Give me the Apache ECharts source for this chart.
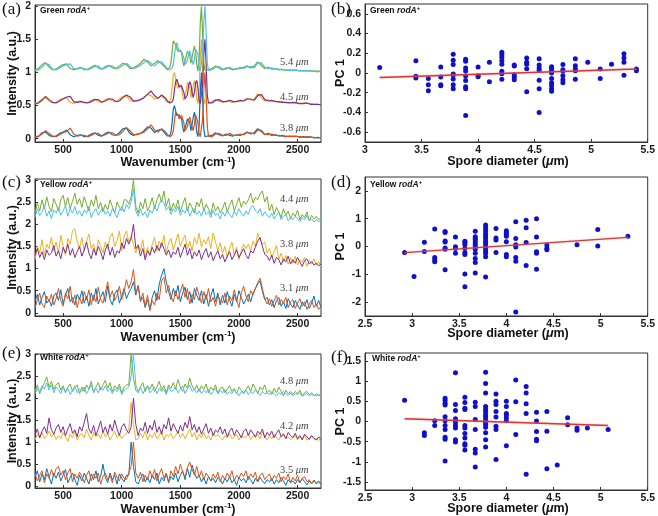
<!DOCTYPE html>
<html><head><meta charset="utf-8">
<script src="https://cdn.jsdelivr.net/npm/echarts@6/dist/echarts.min.js"></script>
<style>html,body{margin:0;padding:0;background:#fff}#c{width:658px;height:516px}</style>
</head><body><div id="c"></div>
<script>
// ---------- spectra panel (a): wavenumbers and relative intensities ----------
const wnA = [260,290,320,350,380,410,440,470,500,530,560,590,620,650,680,710,740,770,800,830,860,890,920,950,980,1010,1040,1070,1100,1130,1160,1190,1220,1250,1280,1310,1340,1370,
1380,1390,1400,1410,1420,1430,1440,1450,1460,1470,1480,1490,1500,1510,1520,1530,1540,1550,1560,1570,1580,1590,1600,1610,1620,1630,1640,1650,1660,1670,1680,1690,1700,1710,1720,1730,1740,
1770,1800,1830,1860,1890,1920,1950,1980,2010,2040,2070,2100,2130,2160,2190,2220,2250,2280,2310,2340,2370,2400,2430,2460,2490,2520,2550,2580,2610,2640,2670,2700];
const offsetsA = [0, 0.5, 1];
const blueA = [0.02,0.03,0.09,0.10,0.05,0.03,0.04,0.08,0.10,0.13,0.06,0.03,0.05,0.06,0.03,0.04,0.07,0.09,0.05,0.04,0.08,0.10,0.06,0.05,0.09,0.15,0.16,0.08,0.05,0.07,0.08,0.12,0.18,0.16,0.09,0.13,0.14,0.08,
0.06,0.04,0.03,0.05,0.10,0.25,0.45,0.50,0.42,0.35,0.33,0.36,0.38,0.30,0.18,0.10,0.12,0.22,0.30,0.33,0.25,0.12,0.15,0.32,0.40,0.30,0.10,0.03,0.20,0.70,1.00,0.60,0.15,0.03,0.02,0.04,0.05,
0.05,0.09,0.06,0.04,0.07,0.05,0.04,0.06,0.05,0.07,0.10,0.07,0.09,0.15,0.11,0.06,0.08,0.05,0.06,0.04,0.05,0.03,0.04,0.03,0.04,0.02,0.03,0.02,0.03,0.01,0.02,0.01];
const orangeA = [0.03,0.04,0.07,0.12,0.08,0.04,0.03,0.06,0.09,0.11,0.16,0.07,0.04,0.05,0.05,0.03,0.05,0.08,0.08,0.04,0.06,0.09,0.09,0.05,0.06,0.11,0.17,0.12,0.06,0.06,0.08,0.10,0.15,0.21,0.13,0.10,0.15,0.11,
0.08,0.06,0.04,0.03,0.04,0.06,0.12,0.28,0.40,0.42,0.36,0.30,0.32,0.35,0.33,0.24,0.12,0.10,0.18,0.28,0.33,0.30,0.18,0.12,0.22,0.36,0.38,0.25,0.08,0.03,0.05,0.30,0.75,1.00,0.65,0.18,0.04,
0.03,0.07,0.08,0.05,0.05,0.08,0.05,0.05,0.07,0.06,0.09,0.09,0.07,0.13,0.13,0.07,0.06,0.07,0.05,0.05,0.04,0.04,0.03,0.04,0.03,0.03,0.02,0.03,0.02,0.02,0.01,0.02];
const yellowA = [0.03,0.05,0.10,0.12,0.07,0.04,0.05,0.09,0.11,0.12,0.05,0.03,0.06,0.07,0.04,0.05,0.08,0.10,0.06,0.05,0.09,0.11,0.07,0.06,0.10,0.14,0.15,0.08,0.06,0.08,0.09,0.13,0.17,0.15,0.10,0.12,0.15,0.09,
0.06,0.05,0.04,0.06,0.12,0.28,0.46,0.50,0.40,0.30,0.26,0.28,0.32,0.27,0.15,0.08,0.10,0.22,0.35,0.38,0.28,0.12,0.14,0.30,0.38,0.30,0.10,0.03,0.22,0.72,1.00,0.55,0.12,0.03,0.02,0.03,0.05,
0.06,0.09,0.07,0.05,0.07,0.06,0.05,0.07,0.06,0.08,0.11,0.08,0.10,0.18,0.12,0.07,0.09,0.06,0.07,0.05,0.06,0.04,0.05,0.04,0.04,0.03,0.04,0.03,0.03,0.02,0.02,0.01];
const purpleA = [0.02,0.04,0.08,0.14,0.09,0.05,0.04,0.07,0.10,0.13,0.14,0.06,0.05,0.06,0.05,0.04,0.06,0.09,0.09,0.05,0.07,0.10,0.10,0.06,0.07,0.12,0.16,0.13,0.07,0.07,0.09,0.12,0.17,0.22,0.15,0.11,0.16,0.12,
0.09,0.07,0.05,0.04,0.04,0.06,0.10,0.24,0.36,0.40,0.34,0.28,0.26,0.30,0.28,0.20,0.10,0.08,0.16,0.30,0.36,0.32,0.20,0.12,0.20,0.34,0.38,0.26,0.08,0.03,0.06,0.32,0.78,1.00,0.62,0.15,0.04,
0.04,0.08,0.09,0.06,0.06,0.08,0.06,0.06,0.08,0.07,0.10,0.10,0.08,0.15,0.17,0.09,0.07,0.08,0.06,0.06,0.05,0.05,0.04,0.05,0.04,0.03,0.03,0.04,0.02,0.02,0.02,0.01];
const greenA = [0.04,0.06,0.12,0.15,0.08,0.04,0.05,0.09,0.12,0.13,0.06,0.04,0.06,0.08,0.04,0.05,0.08,0.11,0.07,0.05,0.09,0.11,0.07,0.06,0.10,0.14,0.12,0.06,0.07,0.10,0.14,0.20,0.16,0.10,0.14,0.18,0.13,0.08,
0.05,0.04,0.05,0.08,0.15,0.32,0.48,0.50,0.42,0.36,0.32,0.30,0.34,0.30,0.18,0.10,0.12,0.24,0.32,0.34,0.26,0.14,0.16,0.32,0.40,0.32,0.12,0.02,0.20,0.75,1.00,0.58,0.14,0.03,0.02,0.04,0.05,
0.06,0.10,0.07,0.04,0.07,0.06,0.04,0.06,0.06,0.08,0.10,0.07,0.10,0.16,0.11,0.06,0.08,0.05,0.06,0.04,0.05,0.03,0.04,0.03,0.04,0.02,0.03,0.02,0.03,0.02,0.02,0.02];
const cyanA = [0.03,0.04,0.08,0.14,0.12,0.05,0.04,0.07,0.10,0.12,0.13,0.06,0.05,0.07,0.06,0.04,0.06,0.09,0.10,0.05,0.07,0.10,0.10,0.06,0.07,0.11,0.14,0.09,0.06,0.08,0.11,0.15,0.18,0.14,0.10,0.15,0.16,0.10,
0.07,0.06,0.05,0.04,0.05,0.07,0.12,0.28,0.40,0.45,0.38,0.32,0.30,0.32,0.30,0.22,0.12,0.10,0.18,0.28,0.33,0.30,0.18,0.12,0.20,0.35,0.38,0.28,0.08,0.02,0.05,0.30,0.76,1.00,0.60,0.14,0.03,
0.04,0.08,0.09,0.05,0.05,0.08,0.05,0.05,0.08,0.06,0.09,0.09,0.07,0.14,0.15,0.08,0.06,0.07,0.05,0.05,0.04,0.04,0.03,0.04,0.03,0.03,0.02,0.03,0.02,0.02,0.01,0.02];

// ---------- spectra panels (c) and (e): shared wavenumber sampling ----------
const wnN = [260,280,300,320,340,360,380,400,420,440,460,480,500,520,540,560,580,600,620,640,
660,680,700,720,740,760,780,800,820,840,860,880,900,920,940,960,980,1000,1020,1040,
1060,1080,1100,1120,1140,1160,1180,1200,1220,1240,1260,1280,1300,1320,1340,1360,1380,1400,1420,1440,
1460,1480,1500,1520,1540,1560,1580,1600,1620,1640,1660,1680,1700,1720,1740,1760,1780,1800,1820,1840,
1860,1880,1900,1920,1940,1960,1980,2000,2020,2040,2060,2080,2100,2120,2140,2160,2180,2200,2220,2240,
2260,2280,2300,2320,2340,2360,2380,2400,2420,2440,2460,2480,2500,2520,2540,2560,2580,2600,2620,2640,
2660,2680,2700];
const offsetsC = [0, 1, 2];
const blueC = [0.25,0.42,0.18,0.35,0.48,0.22,0.30,0.15,0.38,0.45, 0.28,0.52,0.20,0.40,0.55,0.25,0.35,0.18,0.42,0.30,
0.50,0.22,0.38,0.15,0.45,0.28,0.55,0.20,0.35,0.48, 0.25,0.60,0.30,0.18,0.42,0.52,0.22,0.38,0.55,0.32,
0.45,0.55,0.70,0.40,0.62,0.28,0.35,0.12,0.30,0.08, 0.35,0.50,0.28,0.65,0.85,1.00,0.70,0.48,0.30,0.55,
0.38,0.62,0.25,0.45,0.58,0.30,0.48,0.22,0.55,0.40, 0.28,0.50,0.20,0.42,0.15,0.38,0.55,0.25,0.45,0.18,
0.40,0.22,0.48,0.30,0.15,0.42,0.25,0.50,0.35,0.20, 0.30,0.42,0.25,0.45,0.55,0.65,0.72,0.48,0.30,0.35,
0.18,0.30,0.12,0.28,0.35,0.15,0.25,0.10,0.32,0.20, 0.12,0.28,0.18,0.08,0.25,0.15,0.30,0.10,0.22,0.38, 0.15,0.28,0.12];
const orangeC = [0.10,0.30,0.45,0.20,0.12,0.38,0.25,0.42,0.18,0.32, 0.55,0.28,0.15,0.45,0.32,0.60,0.22,0.40,0.12,0.35,
0.20,0.48,0.30,0.52,0.18,0.40,0.25,0.58,0.30,0.22, 0.45,0.70,0.35,0.50,0.28,0.40,0.60,0.30,0.48,0.75,
0.55,0.70,0.98,0.45,0.60,0.25,0.45,0.15,0.40,0.05, 0.28,0.18,0.45,0.30,0.72,0.80,0.45,0.62,0.38,0.25,
0.50,0.30,0.48,0.65,0.35,0.55,0.20,0.42,0.30,0.58, 0.40,0.22,0.48,0.30,0.55,0.25,0.35,0.15,0.40,0.28,
0.22,0.45,0.18,0.38,0.28,0.52,0.30,0.12,0.45,0.60, 0.38,0.25,0.50,0.40,0.55,0.68,0.78,0.55,0.32,0.20,
0.32,0.15,0.28,0.40,0.18,0.30,0.22,0.35,0.12,0.25, 0.30,0.10,0.22,0.32,0.15,0.25,0.08,0.20,0.28,0.12, 0.20,0.08,0.15];
const yellowC = [0.20,0.50,0.35,0.65,0.30,0.55,0.45,0.70,0.40,0.60, 0.35,0.75,0.50,0.30,0.68,0.55,0.85,0.90,0.60,0.45,
0.70,0.40,0.62,0.78,0.45,0.55,0.30,0.65,0.50,0.35, 0.60,0.45,0.70,0.80,0.50,0.62,0.85,0.40,0.72,0.85,
0.60,0.72,0.55,0.35,0.55,0.40,0.65,0.25,0.48,0.30, 0.55,0.70,0.40,0.62,0.48,0.75,0.35,0.58,0.68,0.42,
0.60,0.78,0.50,0.65,0.75,0.45,0.62,0.40,0.70,0.55, 0.80,0.48,0.65,0.55,0.72,0.45,0.80,0.60,0.40,0.58,
0.35,0.50,0.25,0.45,0.60,0.30,0.48,0.20,0.40,0.55, 0.45,0.55,0.40,0.62,0.50,0.80,0.65,0.55,0.60,0.35,
0.45,0.25,0.38,0.52,0.20,0.35,0.15,0.30,0.10,0.25, 0.12,0.28,0.08,0.20,0.15,0.25,0.05,0.18,0.10,0.22, 0.08,0.15,0.05];
const purpleC = [0.30,0.45,0.25,0.38,0.20,0.42,0.30,0.35,0.52,0.28, 0.40,0.22,0.48,0.35,0.55,0.30,0.45,0.25,0.38,0.50,
0.28,0.42,0.60,0.35,0.22,0.45,0.30,0.50,0.38,0.20, 0.42,0.55,0.30,0.48,0.25,0.40,0.35,0.58,0.45,0.68,
0.55,0.68,1.00,0.45,0.52,0.28,0.45,0.20,0.40,0.30, 0.48,0.35,0.52,0.40,0.58,0.45,0.30,0.42,0.25,0.38,
0.32,0.48,0.25,0.40,0.55,0.30,0.45,0.22,0.38,0.28, 0.42,0.20,0.35,0.45,0.25,0.38,0.18,0.30,0.40,0.22,
0.32,0.15,0.28,0.38,0.20,0.30,0.42,0.25,0.35,0.45, 0.30,0.22,0.40,0.35,0.48,0.62,0.70,0.50,0.32,0.28,
0.18,0.30,0.12,0.25,0.20,0.08,0.22,0.15,0.28,0.10, 0.20,0.12,0.25,0.15,0.05,0.18,0.22,0.10,0.16,0.08, 0.12,0.06,0.10];
const greenC = [0.25,0.48,0.30,0.55,0.35,0.62,0.40,0.28,0.58,0.45, 0.30,0.55,0.65,0.40,0.60,0.35,0.52,0.70,0.45,0.58,
0.38,0.62,0.45,0.30,0.55,0.40,0.65,0.35,0.50,0.28, 0.45,0.32,0.55,0.40,0.25,0.50,0.38,0.30,0.55,0.55,
0.45,0.62,1.00,0.40,0.25,0.50,0.35,0.58,0.30,0.42, 0.60,0.35,0.55,0.68,0.50,0.75,0.40,0.58,0.30,0.48,
0.35,0.55,0.28,0.45,0.60,0.30,0.48,0.38,0.25,0.50, 0.40,0.58,0.30,0.45,0.35,0.22,0.48,0.30,0.40,0.25,
0.35,0.50,0.28,0.42,0.55,0.30,0.45,0.60,0.38,0.52, 0.45,0.55,0.70,0.48,0.60,0.55,0.68,0.75,0.50,0.62,
0.30,0.45,0.22,0.38,0.28,0.15,0.35,0.20,0.30,0.12, 0.25,0.18,0.32,0.10,0.22,0.15,0.28,0.08,0.20,0.12, 0.18,0.10,0.15];
const cyanC = [0.15,0.35,0.20,0.28,0.40,0.18,0.30,0.12,0.32,0.25, 0.38,0.20,0.30,0.42,0.18,0.35,0.25,0.40,0.22,0.30,
0.18,0.32,0.25,0.40,0.15,0.28,0.35,0.20,0.30,0.38, 0.22,0.30,0.18,0.35,0.25,0.15,0.32,0.40,0.28,0.45,
0.35,0.50,0.80,0.30,0.18,0.35,0.20,0.28,0.15,0.32, 0.25,0.40,0.30,0.45,0.55,0.48,0.32,0.40,0.22,0.35,
0.28,0.40,0.20,0.32,0.25,0.38,0.18,0.30,0.35,0.22, 0.30,0.18,0.35,0.22,0.28,0.15,0.32,0.20,0.25,0.12,
0.28,0.18,0.32,0.22,0.15,0.30,0.20,0.35,0.25,0.18, 0.30,0.22,0.38,0.42,0.30,0.25,0.35,0.18,0.28,0.20,
0.15,0.25,0.12,0.20,0.28,0.10,0.18,0.22,0.08,0.15, 0.10,0.18,0.12,0.06,0.15,0.10,0.20,0.08,0.12,0.05, 0.10,0.06,0.08];

const offsetsE = [0, 1, 2];
const blueE = [0.20,0.35,0.10,0.28,0.15,0.40,0.22,0.05,0.30,0.18, 0.32,0.12,0.25,0.38,0.08,0.20,0.30,0.15,0.02,0.25,
0.12,0.30,0.18,0.05,0.28,0.15,0.35,0.10,0.22,0.50, 0.20,0.08,0.30,0.15,0.25,0.05,0.28,0.18,0.10,0.25,
0.25,1.00,0.45,0.10,0.05,0.18,0.28,0.10,0.20,0.08, 0.25,0.15,0.30,0.05,0.20,0.12,0.28,0.08,0.22,0.15,
0.30,0.10,0.25,0.35,0.15,0.40,0.20,0.48,0.30,0.18, 0.25,0.10,0.20,0.05,0.22,0.12,0.18,0.08,0.20,0.15,
0.05,0.18,0.10,0.22,0.08,0.15,0.02,0.20,0.12,0.18, 0.08,0.22,0.15,0.05,0.18,0.10,0.20,0.12,0.06,0.15,
0.10,0.18,0.05,0.15,0.08,0.20,0.12,0.02,0.15,0.08, 0.12,0.05,0.15,0.08,0.18,0.10,0.03,0.12,0.06,0.14, 0.05,0.10,0.04];
const orangeE = [0.30,0.12,0.25,0.35,0.08,0.28,0.18,0.38,0.22,0.40, 0.45,0.25,0.35,0.15,0.30,0.40,0.10,0.28,0.18,0.32,
0.22,0.08,0.25,0.35,0.12,0.28,0.18,0.30,0.05,0.22, 0.30,0.15,0.25,0.08,0.32,0.20,0.12,0.28,0.18,0.15,
0.30,0.45,1.00,0.30,0.18,0.32,0.10,0.25,0.15,0.35, 0.20,0.38,0.12,0.28,0.40,0.18,0.30,0.10,0.35,0.22,
0.45,0.28,0.50,0.32,0.20,0.42,0.55,0.38,0.25,0.45, 0.20,0.35,0.15,0.30,0.22,0.12,0.28,0.18,0.32,0.10,
0.25,0.15,0.30,0.20,0.35,0.12,0.25,0.18,0.30,0.22, 0.35,0.15,0.28,0.20,0.32,0.10,0.25,0.30,0.15,0.22,
0.28,0.12,0.25,0.18,0.30,0.10,0.22,0.15,0.28,0.08, 0.20,0.12,0.25,0.08,0.18,0.22,0.10,0.15,0.05,0.12, 0.08,0.12,0.06];
const yellowE = [0.05,0.18,0.10,0.22,0.08,0.15,0.25,0.12,0.20,0.06, 0.15,0.08,0.22,0.12,0.02,0.18,0.10,0.25,0.05,0.15,
0.20,0.10,0.30,0.15,0.05,0.22,0.12,0.18,0.08,0.25, 0.12,0.20,0.05,0.15,0.25,0.10,0.18,0.08,0.15,0.20,
0.30,0.90,0.40,0.05,0.08,0.20,0.10,0.25,0.05,0.18, 0.10,0.22,0.08,0.15,0.25,0.05,0.18,0.12,0.20,0.08,
0.15,0.25,0.10,0.20,0.08,0.18,0.30,0.12,0.22,0.05, 0.18,0.10,0.22,0.08,0.15,0.05,0.20,0.12,0.18,0.10,
0.05,0.15,0.10,0.20,0.08,0.12,0.18,0.05,0.15,0.10, 0.12,0.20,0.06,0.15,0.10,0.18,0.08,0.22,0.12,0.05,
0.15,0.08,0.18,0.10,0.05,0.14,0.20,0.08,0.12,0.06, 0.10,0.15,0.05,0.12,0.08,0.16,0.04,0.10,0.14,0.06, 0.08,0.04,0.10];
const purpleE = [0.15,0.30,0.10,0.25,0.35,0.20,0.55,0.28,0.18,0.32, 0.40,0.22,0.35,0.15,0.30,0.42,0.20,0.28,0.12,0.35,
0.25,0.45,0.65,0.30,0.20,0.38,0.15,0.30,0.48,0.22, 0.35,0.18,0.40,0.25,0.50,0.30,0.15,0.35,0.42,0.28,
0.20,0.35,1.00,0.40,0.15,0.32,0.25,0.45,0.20,0.38, 0.28,0.50,0.22,0.35,0.18,0.40,0.30,0.55,0.25,0.42,
0.30,0.20,0.38,0.25,0.45,0.32,0.58,0.28,0.40,0.22, 0.35,0.18,0.30,0.42,0.20,0.32,0.15,0.28,0.22,0.35,
0.18,0.30,0.12,0.25,0.32,0.15,0.28,0.20,0.10,0.25, 0.30,0.15,0.28,0.20,0.12,0.25,0.18,0.30,0.10,0.22,
0.15,0.25,0.10,0.20,0.28,0.12,0.18,0.08,0.22,0.15, 0.10,0.20,0.08,0.15,0.05,0.18,0.12,0.06,0.15,0.10, 0.05,0.12,0.06];
const greenE = [0.15,0.30,0.10,0.22,0.35,0.48,0.25,0.38,0.20,0.30, 0.35,0.18,0.28,0.12,0.25,0.32,0.15,0.22,0.30,0.10,
0.25,0.15,0.30,0.20,0.38,0.12,0.25,0.35,0.18,0.30, 0.40,0.22,0.35,0.15,0.28,0.20,0.32,0.12,0.25,0.30,
0.30,1.00,0.45,0.18,0.12,0.25,0.35,0.15,0.28,0.20, 0.32,0.15,0.25,0.38,0.18,0.28,0.12,0.30,0.22,0.35,
0.20,0.42,0.25,0.15,0.32,0.22,0.45,0.28,0.18,0.30, 0.15,0.28,0.20,0.32,0.12,0.25,0.18,0.30,0.10,0.22,
0.25,0.12,0.20,0.28,0.15,0.22,0.10,0.25,0.18,0.12, 0.20,0.28,0.15,0.32,0.22,0.10,0.25,0.18,0.30,0.12,
0.18,0.08,0.22,0.12,0.25,0.15,0.05,0.18,0.10,0.15, 0.08,0.15,0.10,0.18,0.05,0.12,0.15,0.08,0.12,0.05, 0.10,0.06,0.08];
const cyanE = [0.10,0.22,0.15,0.28,0.20,0.35,0.18,0.30,0.12,0.25, 0.20,0.10,0.25,0.15,0.22,0.08,0.18,0.28,0.12,0.20,
0.15,0.25,0.10,0.20,0.30,0.15,0.22,0.12,0.25,0.18, 0.28,0.15,0.22,0.10,0.20,0.15,0.25,0.08,0.18,0.22,
0.25,0.50,1.00,0.30,0.15,0.25,0.10,0.20,0.28,0.12, 0.18,0.25,0.10,0.22,0.15,0.20,0.08,0.25,0.15,0.18,
0.25,0.12,0.20,0.28,0.10,0.22,0.30,0.15,0.20,0.12, 0.22,0.10,0.18,0.12,0.20,0.08,0.15,0.22,0.10,0.18,
0.12,0.20,0.08,0.15,0.10,0.18,0.12,0.05,0.15,0.10, 0.18,0.08,0.15,0.10,0.20,0.12,0.06,0.15,0.10,0.12,
0.08,0.15,0.10,0.05,0.12,0.08,0.15,0.10,0.06,0.12, 0.05,0.10,0.08,0.12,0.04,0.08,0.10,0.05,0.08,0.06, 0.05,0.08,0.04];

const sizeLabelsA = ['3.8', '4.5', '5.4'];
const sizeLabelsC = ['3.1', '3.8', '4.4'];
const sizeLabelsE = ['3.5', '4.2', '4.8'];

// ---------- scatter panels: spore diameter (µm) and PC 1 scores ----------
const diamB = [3.13,3.45,3.56,3.67,3.78,3.89,4.00,4.10,4.21,4.32,4.43,4.54,4.65,4.75,4.86,4.97,5.08,5.18,5.29,5.40];
const pcB = [[0.057],[0.125,-0.034,-0.05],[-0.057,-0.12,-0.18],[0.06,-0.04,-0.12,-0.13],
[0.19,0.13,0.085,-0.01,-0.02,-0.06,-0.12,-0.16],[0.14,0.12,0.05,0.02,-0.03,-0.075,-0.14,-0.16,-0.43],
[0.06,-0.027,-0.037],[0.108,-0.088],[0.21,0.185,0.16,0.125,0.09,0.017,-0.007,-0.064],
[0.08,0.07,-0.017,-0.04,-0.068],[0.152,0.108,0.09,0.044,-0.19],[0.145,0.08,0.05,0.027,-0.074,-0.16,-0.40],
[0.064,0.044,0.027,0,-0.057,-0.1,-0.128,-0.16,-0.185],[0.085,0.034,0.017,-0.027,-0.068,-0.1],
[0.145,0.074,0.04,0.024,-0.064],[0.108],[0.04,-0.057],[0.09],[0.196,0.152,0.108,-0.024],[0.04,0.024]];
const fitB = [[3.13,-0.045],[5.40,0.04]];

const diamD = [2.92,3.02,3.13,3.24,3.35,3.46,3.56,3.67,3.78,3.89,4.00,4.10,4.21,4.32,4.43,4.75,4.97,5.29];
const pcD = [[-0.22],[-1.08],[0.15,-0.18],[0.63,-0.4,-0.48,-0.55],[0.54,0.5,0.2,0.16,-0.05,-0.1,-0.84],
[0.34,-0.01,-0.07,-0.24],[0.19,0.14,0.07,-0.06,-0.22,-0.29,-0.99,-1.45],
[0.55,0.35,0.29,0.23,0.14,0.06,-0.01,-0.1,-0.24,-0.43,-0.58,-0.95],
[0.77,0.67,0.58,0.47,0.39,0.31,0.2,0.12,0.02,-0.07,-0.16,-0.24,-0.37,-1.1],
[0.65,0.31,0.23,-0.22],[0.57,0.5,0.43,0.37,0.17,-0.29,-0.37],[0.89,0.29,0.06,-0.02,-0.4,-0.53,-2.36],
[0.94,0.67,0.14,-0.68],[1.0,0.34,-0.19,-0.24,-0.82],[0.05,-0.06,-0.12],[0.06],[0.61,0.02],[0.37]];
const fitD = [[2.92,-0.22],[5.29,0.33]];

const diamF = [2.92,3.13,3.24,3.35,3.46,3.56,3.67,3.78,3.89,4.00,4.10,4.21,4.32,4.43,4.54,4.65,4.75,4.86,5.08];
const pcF = [[0.53],[-0.28,-0.35],[0.02,-0.1],[0.58,0.52,0.45,0.41,0.12,0.02,-0.1,-0.2,-0.39,-0.44,-0.98],
[1.21,0.42,0.27,0.07,-0.02,-0.1,-0.16,-0.45,-0.51],[0.6,0.47,0.33,0.3,-0.1,-0.16,-0.3,-0.41,-0.55,-0.59,-0.71],
[0.48,0.37,0.05,-0.2,-0.69,-0.78,-1.13],
[1.22,0.94,0.71,0.37,0.31,0.25,0.17,0.12,0.05,-0.02,-0.07,-0.14,-0.28,-0.45,-0.63],
[0.68,0.5,0.42,0.25,0.11,-0.12,-0.2,-0.94],[0.5,0.37,0.2,0.17,0.09,0.02,-0.6],[1.03,0.49,-0.32],
[0.87,0.71,0.44,0.2,-1.31],[0.23,0.01,-0.25,-0.44,-0.48],[0.25,-0.24,-1.17],[-1.08],[0.09,-0.08],
[-0.16,-0.22],[-0.16],[-0.2]];
const fitF = [[2.92,0.07],[5.08,-0.10]];

// ---------- tick labels ----------
const wnTicks = [500,1000,1500,2000,2500];
const intTicksA = [0,0.5,1,1.5,2];
const intTicksC = [0,0.5,1,1.5,2,2.5,3];
const pcTicksB = [-0.6,-0.4,-0.2,0,0.2,0.4,0.6];
const pcTicksD = [-2,-1,0,1,2];
const pcTicksF = [-1.5,-1,-0.5,0,0.5,1,1.5];

// ---------- build ----------
const COLORS = ['#0072BD','#D95319','#EDB120','#7E2F8E','#77AC30','#4DBEEE'];
const chart = echarts.init(document.getElementById('c'), null, {renderer:'canvas'});

function pairs(wn, vals, off){
  const n = Math.min(wn.length, vals.length), out = [];
  for (let i=0;i<n;i++) out.push([wn[i], vals[i]+off]);
  return out;
}
function scat(d, p){ const out=[]; d.forEach((x,i)=>p[i].forEach(y=>out.push([x,y]))); return out; }

const tickFont = {fontFamily:'Liberation Sans, Arial, sans-serif', fontWeight:'bold', fontSize:10.5, color:'#1a1a1a'};
function axis(dim, gi, min, max, ticks, interval){
  const a = {type:'value', gridIndex:gi, min, max, scale:true,
    axisLine:{show:true, onZero:false, lineStyle:{color:'#333', width:1}},
    axisTick:{show:true, inside:true, length:3, lineStyle:{color:'#333'}},
    axisLabel:Object.assign({margin: dim==='x'?3:4, formatter:(v)=>String(+(+v).toFixed(2))}, tickFont),
    splitLine:{show:false}};
  if (ticks){ a.axisTick.customValues = ticks; a.axisLabel.customValues = ticks; }
  if (interval) a.interval = interval;
  return a;
}

const grids = [
  {left:35, top:5, width:286, height:137},
  {left:365, top:4, width:286, height:138},
  {left:35, top:179, width:286, height:137},
  {left:365, top:177, width:286, height:139},
  {left:35, top:354, width:286, height:134},
  {left:365, top:353, width:286, height:137}
].map(g=>Object.assign(g,{show:true, borderColor:'#333', borderWidth:1, containLabel:false}));

const xAxes = [
  axis('x',0,260,2700,wnTicks), axis('x',1,3,5.5,null,0.5),
  axis('x',2,260,2700,wnTicks), axis('x',3,2.5,5.5,null,0.5),
  axis('x',4,260,2700,wnTicks), axis('x',5,2.5,5.5,null,0.5)
];
const yAxes = [
  axis('y',0,-0.05,2.02,intTicksA), axis('y',1,-0.7,0.7,pcTicksB),
  axis('y',2,-0.07,3.02,intTicksC), axis('y',3,-2.5,2.5,pcTicksD),
  axis('y',4,-0.04,3.0,intTicksC), axis('y',5,-1.7,1.7,pcTicksF)
];

const series = [];
function addSpectra(gi, wn, arrs, offs, lw){
  arrs.forEach((arr,k)=>{
    series.push({type:'line', xAxisIndex:gi, yAxisIndex:gi, data:pairs(wn, arr, offs[Math.floor(k/2)]),
      showSymbol:false, symbol:'none', silent:true, lineStyle:{color:COLORS[k], width:lw}, z:2+k});
  });
}
addSpectra(0, wnA, [blueA, orangeA, yellowA, purpleA, greenA, cyanA], offsetsA, 1.2);
addSpectra(2, wnN, [blueC, orangeC, yellowC, purpleC, greenC, cyanC], offsetsC, 1.0);
addSpectra(4, wnN, [blueE, orangeE, yellowE, purpleE, greenE, cyanE], offsetsE, 1.0);

function addScatter(gi, d, p, fit){
  series.push({type:'scatter', xAxisIndex:gi, yAxisIndex:gi, data:scat(d,p), symbolSize:5,
    itemStyle:{color:'#1010c8', opacity:1}, silent:true, z:3});
  series.push({type:'line', xAxisIndex:gi, yAxisIndex:gi, data:fit, showSymbol:false, symbol:'none', silent:true,
    lineStyle:{color:'#d23a3a', width:1.4, shadowColor:'rgba(230,120,120,0.6)', shadowBlur:2}, z:4});
}
addScatter(1, diamB, pcB, fitB);
addScatter(3, diamD, pcD, fitD);
addScatter(5, diamF, pcF, fitF);

// ---------- text ----------
const SANS = 'Liberation Sans, Arial, sans-serif';
const SERIF = 'Liberation Serif, DejaVu Serif, serif';
const graphic = [];
function T(x, y, text, rich){
  graphic.push({type:'text', x, y, silent:true, z:50,
    style:{text, rich, fill:'#111', align:'left', verticalAlign:'middle'}});
}
const labRich = {
  n:{fontFamily:SANS, fontWeight:'bold', fontSize:8.5, lineHeight:11},
  i:{fontFamily:SANS, fontWeight:'bold', fontStyle:'italic', fontSize:8.5, lineHeight:11},
  s:{fontFamily:SANS, fontWeight:'bold', fontSize:6, lineHeight:6, verticalAlign:'top'}
};
T(40, 11, '{n|Green }{i|rodA}{s|+}', labRich);
T(370, 11, '{n|Green }{i|rodA}{s|+}', labRich);
T(40, 185, '{n|Yellow }{i|rodA}{s|+}', labRich);
T(370, 185, '{n|Yellow }{i|rodA}{s|+}', labRich);
T(40, 358, '{n|White }{i|rodA}{s|+}', labRich);
T(372, 359, '{n|White }{i|rodA}{s|+}', labRich);

const pRich = {p:{fontFamily:SERIF, fontSize:17, lineHeight:18}};
[['(a)',2,10],['(b)',331,10],['(c)',2,183],['(d)',331,183],['(e)',2,354],['(f)',331,358]].forEach(a=>{
  T(a[1], a[2], '{p|'+a[0]+'}', pRich);
});

const wRich = {
  a:{fontFamily:SANS, fontWeight:'bold', fontSize:12.5, lineHeight:15},
  s:{fontFamily:SANS, fontWeight:'bold', fontSize:8, lineHeight:8, verticalAlign:'top'}
};
[163, 337.5, 509.5].forEach(y=>{
  graphic.push({type:'text', x:178, y, silent:true, z:50,
    style:{text:'{a|Wavenumber (cm}{s|-1}{a|)}', rich:wRich, fill:'#111', align:'center', verticalAlign:'middle'}});
});
const sRich = {
  a:{fontFamily:SANS, fontWeight:'bold', fontSize:12.5, lineHeight:15},
  m:{fontFamily:SANS, fontWeight:'bold', fontStyle:'italic', fontSize:12.5, lineHeight:15}
};
[162, 334, 508.5].forEach(y=>{
  graphic.push({type:'text', x:508, y, silent:true, z:50,
    style:{text:'{a|Spore diameter (}{m|μ}{a|m)}', rich:sRich, fill:'#111', align:'center', verticalAlign:'middle'}});
});
[73.5, 247.5, 421].forEach(y=>{
  graphic.push({type:'text', x:13, y, rotation:Math.PI/2, silent:true, z:50,
    style:{text:'Intensity (a.u.)', fill:'#111', align:'center', verticalAlign:'middle', font:'bold 12.5px '+SANS}});
});
[73, 246.5, 421.5].forEach(y=>{
  graphic.push({type:'text', x:341, y, rotation:Math.PI/2, silent:true, z:50,
    style:{text:'PC 1', fill:'#111', align:'center', verticalAlign:'middle', font:'bold 12.5px '+SANS}});
});

const uRich = {
  r:{fontFamily:SERIF, fontSize:10.5, lineHeight:12},
  u:{fontFamily:SERIF, fontStyle:'italic', fontSize:10.5, lineHeight:12}
};
function ann(y, v){
  graphic.push({type:'text', x:280, y, silent:true, z:50,
    style:{text:'{r|'+v+' }{u|μm}', rich:uRich, fill:'#444', align:'left', verticalAlign:'middle'}});
}
ann(62, sizeLabelsA[2]); ann(97, sizeLabelsA[1]); ann(128, sizeLabelsA[0]);
ann(199, sizeLabelsC[2]); ann(244, sizeLabelsC[1]); ann(288, sizeLabelsC[0]);
ann(381, sizeLabelsE[2]); ann(426, sizeLabelsE[1]); ann(470, sizeLabelsE[0]);

chart.setOption({animation:false, backgroundColor:'#fff', grid:grids, xAxis:xAxes, yAxis:yAxes, series, graphic});
</script></body></html>
